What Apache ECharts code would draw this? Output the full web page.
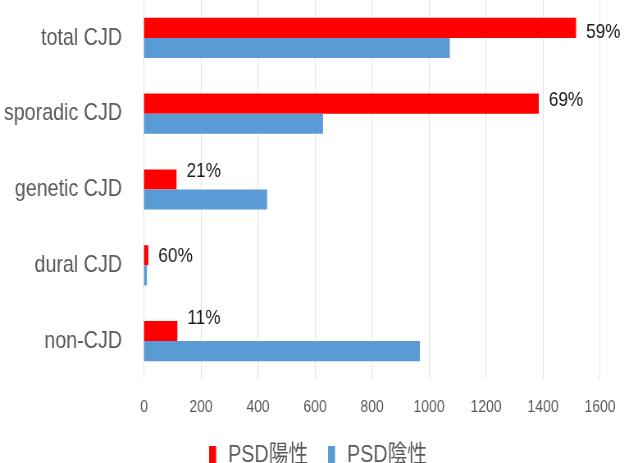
<!DOCTYPE html>
<html>
<head>
<meta charset="utf-8">
<script src="https://cdn.jsdelivr.net/npm/echarts@6/dist/echarts.min.js"></script>
<style>
  html, body { margin: 0; padding: 0; background: #fff; overflow: hidden; }
  /* The chart is laid out wider and squeezed horizontally so the text
     gets a condensed look; every horizontal size below is in the wide units. */
  #wrap { width: 624px; height: 463px; overflow: hidden; }
  #chart { width: 761px; height: 463px; transform: scaleX(0.82); transform-origin: 0 0; }
</style>
</head>
<body>
<div id="wrap"><div id="chart"></div></div>
<script>
// Case groups, top to bottom
const categories = ['total CJD', 'sporadic CJD', 'genetic CJD', 'dural CJD', 'non-CJD'];
// Number of cases with / without periodic sharp-wave complexes
const psdPositive = [1516, 1385, 114, 15, 117];
const psdNegative = [1073, 628, 432, 10, 968];
// Series names
const seriesNames = ['PSD陽性', 'PSD陰性'];
// Value axis
const axisMin = 0, axisMax = 1600, axisStep = 200;

// Vertical nudges for the percentage labels
const labelDy = [4, -3, -8, 1, -13];

const SX = 0.82; // horizontal squeeze applied by CSS
const w = px => px / SX;

const font = '"Liberation Sans", Arial, "Noto Sans CJK JP", sans-serif';

const chart = echarts.init(document.getElementById('chart'), null, { renderer: 'canvas' });

chart.setOption({
  animation: false,
  backgroundColor: '#ffffff',
  textStyle: { fontFamily: font },
  grid: { left: w(144), right: w(24), top: 0, bottom: 84, containLabel: false, outerBoundsMode: 'none' },
  xAxis: {
    type: 'value',
    min: axisMin,
    max: axisMax,
    interval: axisStep,
    axisLine: { show: false },
    axisTick: { show: false },
    splitLine: { show: true, lineStyle: { color: '#e3e3e3', width: 1 } },
    axisLabel: { color: '#595959', fontSize: 17, margin: 20, fontFamily: font, formatter: v => String(v) }
  },
  yAxis: {
    type: 'category',
    data: categories,
    inverse: true,
    axisLine: { show: false },
    axisTick: { show: false },
    splitLine: { show: false },
    axisLabel: { color: '#595959', fontSize: 24, margin: w(22), fontFamily: font }
  },
  legend: {
    data: seriesNames,
    left: w(205),
    top: 438,
    icon: 'rect',
    itemWidth: w(7),
    itemHeight: 18,
    itemGap: w(20),
    textStyle: {
      color: '#595959',
      fontSize: 24,
      fontFamily: '"Liberation Sans", "Noto Sans CJK JP", sans-serif',
      padding: [0, 0, 0, w(8)]
    }
  },
  series: [
    {
      name: seriesNames[0],
      type: 'bar',
      barGap: '0%',
      barCategoryGap: '47%',
      itemStyle: { color: '#ff0000' },
      data: psdPositive.map((v, i) => ({ value: v, label: { offset: [0, labelDy[i]] } })),
      label: {
        show: true,
        position: 'right',
        distance: w(10),
        color: '#1a1a1a',
        fontSize: 21,
        fontFamily: font,
        formatter: p => Math.round(psdPositive[p.dataIndex] / (psdPositive[p.dataIndex] + psdNegative[p.dataIndex]) * 100) + '%'
      }
    },
    {
      name: seriesNames[1],
      type: 'bar',
      barGap: '0%',
      barCategoryGap: '47%',
      itemStyle: { color: '#5b9bd5' },
      data: psdNegative
    }
  ]
});
</script>
</body>
</html>
